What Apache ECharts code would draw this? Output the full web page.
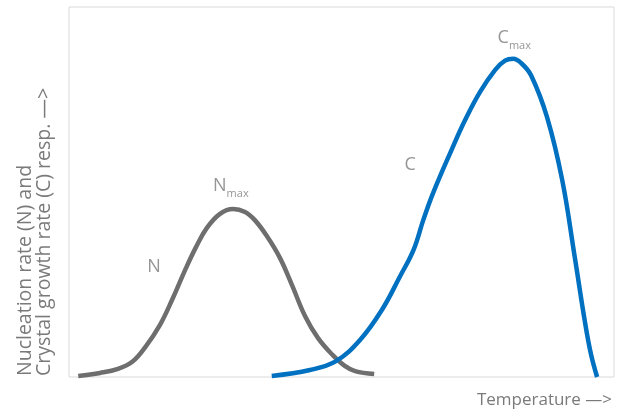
<!DOCTYPE html>
<html>
<head>
<meta charset="utf-8">
<script src="https://cdn.jsdelivr.net/npm/echarts@6/dist/echarts.min.js"></script>
<style>
  html, body { margin: 0; padding: 0; background: #fff; }
  #chart { width: 618px; height: 410px; }
</style>
</head>
<body>
<div id="chart"></div>
<script>
// temperature (arbitrary 0-100) vs rate (arbitrary 0-100)
const nucleation = [
    [1.7, 0.3], [5.7, 1.1], [9.0, 2.2], [11.6, 4.1], [14.0, 8.1], [16.7, 14.1],
    [18.9, 20.8], [21.3, 28.9], [23.3, 35.1], [25.3, 40.3], [27.7, 44.1],
    [30.1, 45.4], [32.3, 44.6], [34.1, 42.4], [36.3, 38.1], [38.7, 32.2],
    [40.9, 24.9], [43.3, 16.5], [45.7, 10.5], [48.4, 5.9], [50.6, 3.0],
    [52.5, 1.6], [56.0, 0.8]
]
const crystalGrowth = [
    [37.2, 0.3], [44.2, 1.9], [49.0, 4.3], [53.4, 10.0], [57.4, 18.1],
    [60.7, 27.1], [63.2, 34.3], [65.0, 42.4], [66.8, 49.7], [70.2, 61.4],
    [72.7, 69.5], [75.4, 77.0], [78.2, 83.0], [80.0, 85.5], [81.5, 86.0],
    [83.0, 84.8], [84.8, 81.5], [87.7, 70.3], [90.5, 53.2], [92.8, 32.4],
    [94.7, 14.6], [95.8, 6.0], [96.9, 0]
]
const curveLabels = [
    { name: 'N', value: [15.6, 29.2] },
    { name: 'C', value: [62.6, 56.8] },
    { name: 'Nmax', value: [29.7, 51.1] },
    { name: 'Cmax', value: [81.7, 91.1] }
]

const textColor = '#7a7a7a'
const font = 'Open Sans'

const chart = echarts.init(document.getElementById('chart'))
chart.setOption({
    animation: false,
    grid: {
        left: 69, top: 7, right: 4, bottom: 33,
        show: true, borderColor: '#d9d9d9', borderWidth: 1
    },
    xAxis: {
        type: 'value', min: 0, max: 100,
        axisLine: { show: false }, axisTick: { show: false },
        axisLabel: { show: false }, splitLine: { show: false }
    },
    yAxis: {
        type: 'value', min: 0, max: 100,
        axisLine: { show: false }, axisTick: { show: false },
        axisLabel: { show: false }, splitLine: { show: false }
    },
    series: [
        {
            name: 'N', type: 'line', data: nucleation, smooth: 0.4,
            symbol: 'none', lineStyle: { color: '#6e6e6e', width: 4.5 }
        },
        {
            name: 'C', type: 'line', data: crystalGrowth, smooth: 0.4,
            symbol: 'none', lineStyle: { color: '#0070c0', width: 4.5 }
        },
        {
            name: 'labels', type: 'scatter', data: curveLabels, symbolSize: 1,
            itemStyle: { color: 'rgba(0,0,0,0)' },
            label: {
                show: true, position: 'inside',
                formatter: p => p.name.length > 1
                    ? '{a|' + p.name[0] + '}{b|' + p.name.slice(1) + '}'
                    : '{a|' + p.name + '}',
                rich: {
                    a: { fontFamily: font, fontSize: 18, color: textColor, lineHeight: 22, verticalAlign: 'top' },
                    b: { fontFamily: font, fontSize: 11, color: textColor, lineHeight: 8, verticalAlign: 'bottom' }
                }
            }
        }
    ],
    graphic: [
        {
            type: 'text', x: 16, y: 376, rotation: Math.PI / 2,
            style: {
                text: 'Nucleation rate (N) and\nCrystal growth rate (C) resp. —>',
                fontFamily: font, fontSize: 19.5, lineHeight: 19, fill: textColor,
                align: 'left', verticalAlign: 'top'
            }
        },
        {
            type: 'text', x: 612, y: 400,
            style: {
                text: 'Temperature —>', fontFamily: font, fontSize: 17,
                fill: textColor, align: 'right', verticalAlign: 'middle'
            }
        }
    ]
})
</script>
</body>
</html>
